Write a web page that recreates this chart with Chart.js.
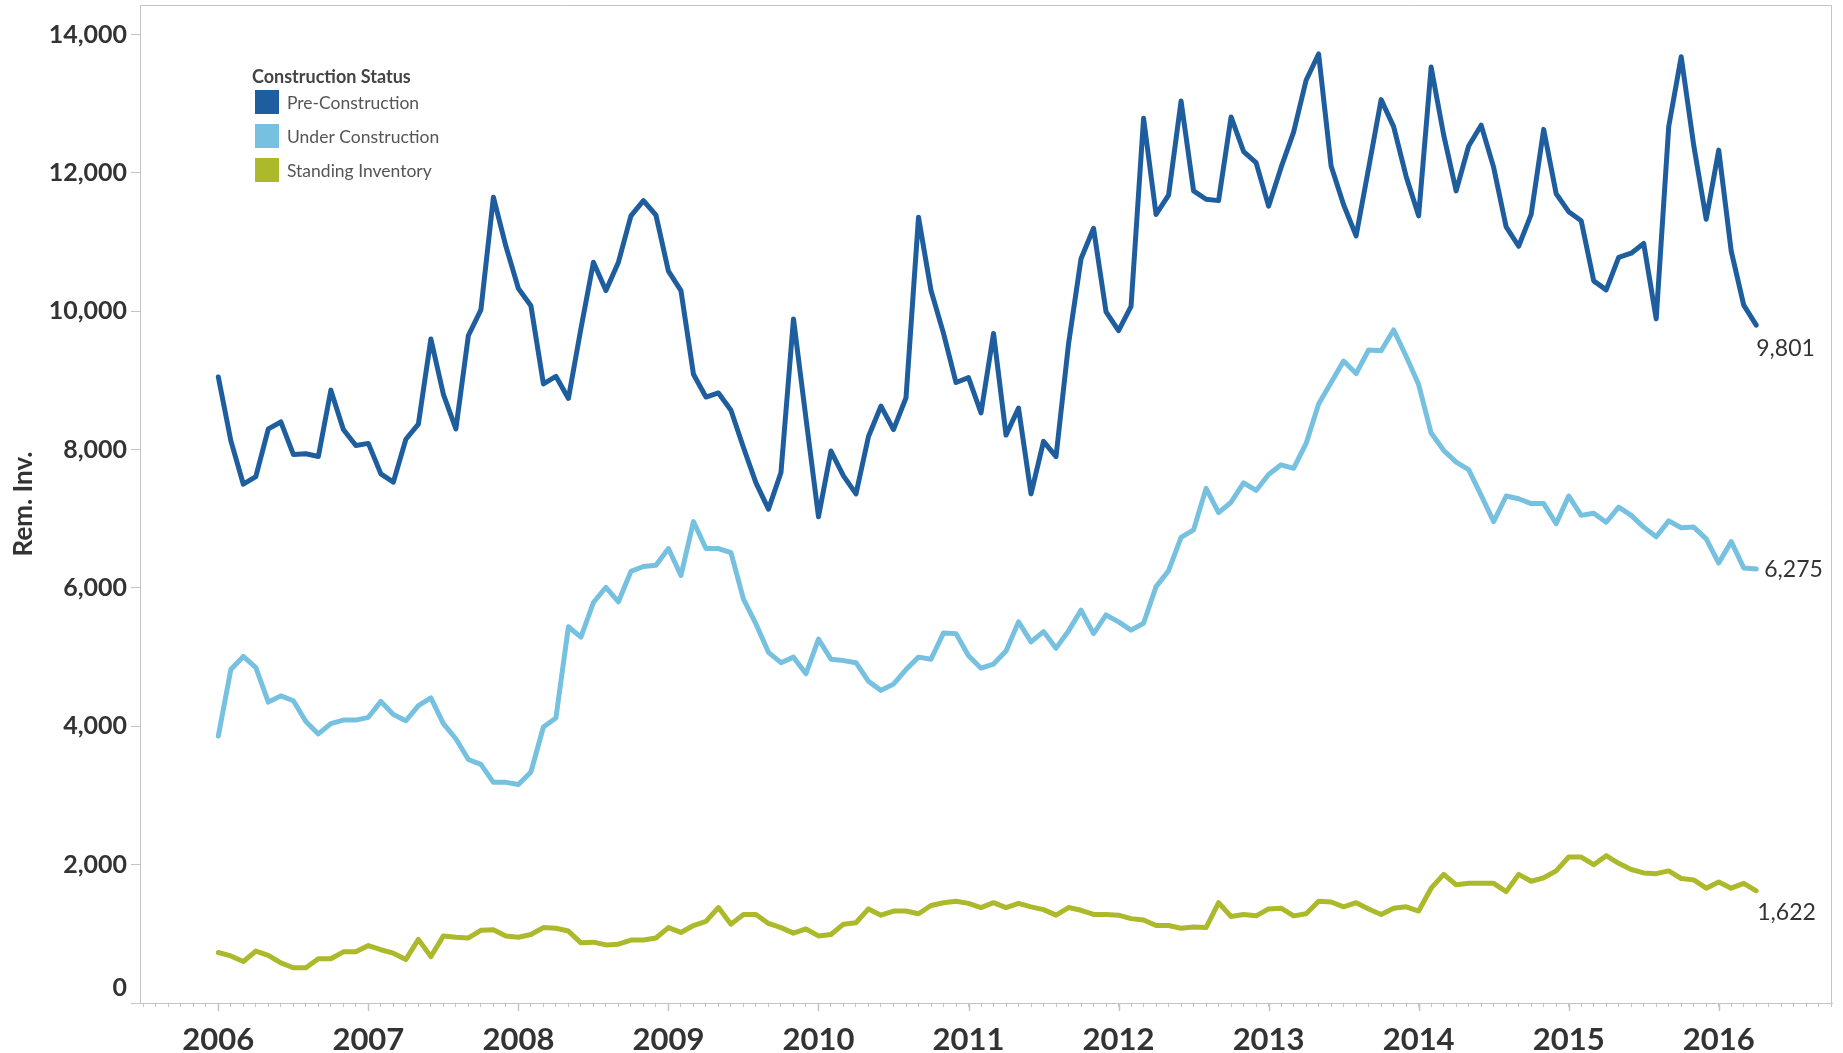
<!DOCTYPE html>
<html>
<head>
<meta charset="utf-8">
<script src="https://cdn.jsdelivr.net/npm/chart.js@4.4.1/dist/chart.umd.min.js"></script>
<style>
  html, body { margin: 0; background: #fff; }
  #wrap { width: 1843px; height: 1053px; position: relative; }
</style>
</head>
<body>
<div id="wrap"><canvas id="chart"></canvas></div>
<script>
const seriesNames = ['Pre-Construction', 'Under Construction', 'Standing Inventory'];
const seriesColors = ['#1f5e9e', '#76c0e0', '#acb92a'];
const legendTitle = 'Construction Status';
const yTicks = [0, 2000, 4000, 6000, 8000, 10000, 12000, 14000];

// monthly values, Jan 2006 - Apr 2016
const preConstruction = [
  9050, 8130, 7500, 7610, 8300, 8400, 7930, 7940, 7900, 8860, 8290, 8060,
  8090, 7650, 7530, 8150, 8370, 9600, 8800, 8300, 9650, 10020, 11650, 10940,
  10330, 10080, 8950, 9060, 8740, 9750, 10710, 10300, 10710, 11380, 11600, 11390,
  10580, 10300, 9090, 8760, 8820, 8570, 8030, 7520, 7140, 7670, 9890, 8450,
  7030, 7980, 7620, 7360, 8190, 8630, 8290, 8750, 11360, 10300, 9680, 8970,
  9040, 8530, 9680, 8210, 8600, 7360, 8120, 7900, 9530, 10760, 11200, 9990,
  9720, 10070, 12790, 11400, 11680, 13040, 11740, 11620, 11600, 12810, 12310, 12150,
  11520, 12080, 12590, 13340, 13720, 12100, 11540, 11090, 12070, 13060, 12670, 11950,
  11380, 13530, 12550, 11740, 12390, 12690, 12080, 11220, 10940, 11400, 12630, 11700,
  11440, 11310, 10440, 10310, 10780, 10840, 10980, 9890, 12670, 13680, 12400, 11330,
  12330, 10870, 10090, 9801
];
const underConstruction = [
  3860, 4820, 5010, 4850, 4350, 4440, 4370, 4070, 3890, 4040, 4090, 4090,
  4130, 4360, 4170, 4080, 4300, 4410, 4040, 3820, 3520, 3450, 3190, 3190,
  3160, 3340, 3990, 4120, 5440, 5290, 5790, 6010, 5800, 6240, 6310, 6330,
  6570, 6180, 6960, 6570, 6570, 6510, 5840, 5480, 5070, 4920, 5000, 4760,
  5260, 4970, 4950, 4920, 4650, 4520, 4610, 4820, 5000, 4970, 5350, 5340,
  5020, 4840, 4900, 5090, 5510, 5220, 5370, 5130, 5380, 5680, 5340, 5610,
  5510, 5390, 5490, 6020, 6250, 6730, 6840, 7440, 7090, 7240, 7520, 7410,
  7640, 7780, 7730, 8090, 8660, 8970, 9280, 9100, 9440, 9430, 9730, 9350,
  8940, 8240, 7990, 7820, 7710, 7340, 6960, 7330, 7290, 7220, 7220, 6930,
  7330, 7050, 7080, 6950, 7170, 7050, 6880, 6740, 6970, 6870, 6880, 6710,
  6360, 6670, 6290, 6275
];
const standingInventory = [
  730, 680, 600, 750, 690, 580, 510, 510, 640, 640, 740, 740,
  830, 770, 720, 630, 920, 670, 970, 950, 940, 1050, 1060, 970,
  950, 990, 1090, 1080, 1040, 870, 880, 840, 850, 910, 910, 940,
  1090, 1020, 1120, 1180, 1380, 1140, 1280, 1280, 1150, 1090, 1010, 1070,
  970, 990, 1140, 1160, 1360, 1270, 1330, 1330, 1290, 1410, 1450, 1470,
  1440, 1380, 1450, 1380, 1440, 1390, 1350, 1270, 1380, 1340, 1280, 1280,
  1270, 1220, 1200, 1120, 1120, 1080, 1100, 1090, 1450, 1250, 1280, 1260,
  1360, 1370, 1260, 1290, 1470, 1460, 1390, 1450, 1360, 1280, 1370, 1390,
  1330, 1660, 1860, 1710, 1730, 1730, 1730, 1610, 1860, 1760, 1810, 1910,
  2110, 2110, 2000, 2130, 2020, 1930, 1880, 1870, 1910, 1800, 1780, 1660,
  1750, 1660, 1730, 1622
];
const seriesValues = [preConstruction, underConstruction, standingInventory];

// month categories "YYYY-MM"
const months = [];
for (let i = 0; i < preConstruction.length; i++) {
  const yr = 2006 + Math.floor(i / 12);
  months.push(`${yr}-${String(i % 12 + 1).padStart(2, '0')}`);
}

const toYear = s => {
  const [y, m] = s.split('-').map(Number);
  return y + (m - 1) / 12;
};

const fontFamily = 'Lato, "Noto Sans", sans-serif';
const frameColor = '#c4c4c4';

// label offsets for the end values (style only)
const endLabelOffsets = [[0, 24], [8, 1], [1, 22]];

const framePlugin = {
  id: 'frame',
  beforeDatasetsDraw(chart) {
    const {ctx, chartArea: a} = chart;
    ctx.save();
    ctx.strokeStyle = frameColor;
    ctx.lineWidth = 1;
    ctx.beginPath();
    ctx.moveTo(a.left + 0.5, a.bottom);
    ctx.lineTo(a.left + 0.5, a.top + 0.5);
    ctx.lineTo(a.right - 0.5, a.top + 0.5);
    ctx.lineTo(a.right - 0.5, a.bottom);
    ctx.stroke();
    ctx.restore();
  },
  afterDraw(chart) {
    const {ctx, chartArea: a} = chart;
    const x = chart.scales.x;
    const y = chart.scales.y;
    ctx.save();
    // major year ticks
    ctx.strokeStyle = frameColor;
    ctx.lineWidth = 1.5;
    for (let yr = Math.ceil(x.min); yr <= Math.floor(x.max); yr++) {
      const px = Math.round(x.getPixelForValue(yr)) + 0.5;
      ctx.beginPath();
      ctx.moveTo(px, a.bottom);
      ctx.lineTo(px, a.bottom + 8);
      ctx.stroke();
    }
    // zero label sits a little above the axis line
    ctx.font = `bold 25px ${fontFamily}`;
    ctx.fillStyle = '#333';
    ctx.textAlign = 'right';
    ctx.textBaseline = 'middle';
    ctx.fillText('0', a.left - 13, y.getPixelForValue(0) - 15);
    ctx.restore();
  }
};

const legendPlugin = {
  id: 'boxLegend',
  afterDraw(chart) {
    const {ctx, chartArea: a} = chart;
    const left = a.left + 115;
    const top = a.top + 72;
    ctx.save();
    ctx.textBaseline = 'middle';
    ctx.fillStyle = '#444';
    ctx.font = `bold 18px ${fontFamily}`;
    ctx.fillText(legendTitle, left - 3, top);
    ctx.font = `17.5px ${fontFamily}`;
    chart.data.datasets.forEach((ds, i) => {
      const cy = top + 25 + i * 34;
      ctx.fillStyle = ds.borderColor;
      ctx.fillRect(left, cy - 12, 24, 24);
      ctx.fillStyle = '#555';
      ctx.fillText(ds.label, left + 32, cy + 1);
    });
    ctx.restore();
  }
};

const endLabelPlugin = {
  id: 'endLabels',
  afterDatasetsDraw(chart) {
    const {ctx} = chart;
    ctx.save();
    ctx.font = `23px ${fontFamily}`;
    ctx.fillStyle = '#333';
    ctx.textBaseline = 'middle';
    ctx.textAlign = 'left';
    chart.data.datasets.forEach((ds, i) => {
      const meta = chart.getDatasetMeta(i);
      const pt = meta.data[meta.data.length - 1];
      const val = ds.data[ds.data.length - 1].y;
      const [dx, dy] = endLabelOffsets[i];
      ctx.fillText(val.toLocaleString('en-US'), pt.x + dx, pt.y + dy);
    });
    ctx.restore();
  }
};

new Chart(document.getElementById('chart'), {
  type: 'line',
  data: {
    datasets: seriesNames.map((name, i) => ({
      label: name,
      data: seriesValues[i].map((v, j) => ({x: toYear(months[j]), y: v})),
      borderColor: seriesColors[i],
      backgroundColor: seriesColors[i],
      borderWidth: 5,
      borderJoinStyle: 'round',
      borderCapStyle: 'round',
      pointRadius: 0,
      tension: 0,
      fill: false
    }))
  },
  options: {
    responsive: true,
    maintainAspectRatio: false,
    animation: false,
    devicePixelRatio: 1,
    layout: {padding: {top: 5, right: 11, bottom: 0, left: 0}},
    plugins: {
      legend: {display: false},
      tooltip: {enabled: false}
    },
    scales: {
      x: {
        type: 'linear',
        min: 2005.478,
        max: 2016.755,
        afterBuildTicks: scale => {
          const ticks = [];
          for (let k = Math.ceil(scale.min * 12); k <= Math.floor(scale.max * 12); k++) {
            ticks.push({value: k / 12});
          }
          scale.ticks = ticks;
        },
        afterFit: scale => {
          scale.height = 50;
          scale.paddingLeft = 0;
          scale.paddingRight = 0;
        },
        grid: {drawOnChartArea: false, tickLength: 4, tickColor: frameColor, tickWidth: 1},
        border: {color: frameColor, width: 1},
        ticks: {
          autoSkip: false,
          maxRotation: 0,
          padding: 14,
          color: '#333',
          font: {family: fontFamily, size: 31, weight: 'bold'},
          callback: v => Math.abs(v - Math.round(v)) < 1e-6 ? String(Math.round(v)) : ''
        }
      },
      y: {
        min: 0,
        max: 14428,
        afterBuildTicks: scale => { scale.ticks = yTicks.map(v => ({value: v})); },
        afterFit: scale => {
          scale.width = 140;
          scale.paddingTop = 0;
          scale.paddingBottom = 0;
        },
        grid: {drawOnChartArea: false, tickLength: 9, tickColor: frameColor},
        border: {color: frameColor, width: 1},
        ticks: {
          padding: 4,
          color: '#333',
          font: {family: fontFamily, size: 25, weight: 'bold'},
          callback: v => v === 0 ? '' : v.toLocaleString('en-US')
        },
        title: {
          display: true,
          text: 'Rem. Inv.',
          color: '#333',
          font: {family: fontFamily, size: 26, weight: 'bold'},
          padding: {top: 8, bottom: 0}
        }
      }
    }
  },
  plugins: [framePlugin, legendPlugin, endLabelPlugin]
});
</script>
</body>
</html>
